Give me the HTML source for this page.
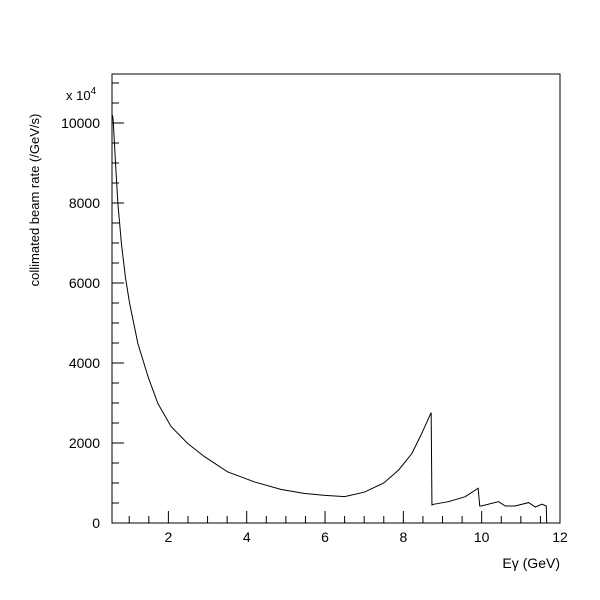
<!DOCTYPE html>
<html><head><meta charset="utf-8"><style>
body{margin:0;background:#fff}
svg{display:block;font-family:"Liberation Sans",sans-serif}
</style></head><body>
<svg id="chart" width="600" height="600" viewBox="0 0 600 600">
<rect width="600" height="600" fill="#fff"/>
<g id="axes"></g>
<text transform="translate(39,200) rotate(-90)" text-anchor="middle" font-size="13">collimated beam rate (/GeV/s)</text>
<text x="66" y="100" font-size="13">x 10<tspan font-size="10" dy="-6">4</tspan></text>
<text x="560" y="568" text-anchor="end" font-size="14">E&#947; (GeV)</text>
</svg>
<script>
const xs=[0.57,0.59,0.65,0.71,0.80,0.90,1.01,1.22,1.48,1.73,2.07,2.49,2.92,3.51,4.19,4.87,5.46,6.0,6.5,7.0,7.5,7.88,8.22,8.47,8.71,8.73,8.77,9.15,9.58,9.91,9.95,9.99,10.43,10.6,10.85,11.2,11.37,11.54,11.65,11.66];
const ys=[10200,10075,8990,7990,6990,6160,5490,4490,3660,2990,2410,1990,1660,1280,1030,840,740,690,660,770,1000,1325,1740,2240,2760,450,467,533,658,870,425,425,533,425,425,510,400,470,425,0];
const xTicks=[2,4,6,8,10,12];
const yTicks=[0,2000,4000,6000,8000,10000];
const X0=0.56,X1=12,Y0=0,Y1=11225;
const L=112,R=560,T=74,B=523;
const sx=v=>L+(v-X0)/(X1-X0)*(R-L);
const sy=v=>B-(v-Y0)/(Y1-Y0)*(B-T);
const NS='http://www.w3.org/2000/svg';
const g=document.getElementById('axes');
function mk(t,a){const e=document.createElementNS(NS,t);for(const k in a)e.setAttribute(k,a[k]);g.appendChild(e);return e;}
const fr=mk('rect',{x:L,y:T,width:R-L,height:B-T,fill:'none',stroke:'#000','stroke-width':1});


for(let v=1;v<=11.51;v+=0.5){const big=Math.abs(v-Math.round(v/2)*2)<1e-6;const l=mk('line',{x1:sx(v),x2:sx(v),y1:B,y2:B-(big?12:7),stroke:'#000'});

}
for(let v=500;v<=11000;v+=500){const big=v%2000===0;const l=mk('line',{x1:L,x2:L+(big?12:7),y1:sy(v),y2:sy(v),stroke:'#000'});

}
xTicks.forEach(v=>{const t=mk('text',{x:sx(v),y:B+19,'text-anchor':'middle','font-size':14});t.textContent=v;

});
yTicks.forEach(v=>{const t=mk('text',{x:L-12,y:sy(v)+5,'text-anchor':'end','font-size':14});t.textContent=v;

});
const p=mk('polyline',{points:xs.map((x,i)=>sx(x)+','+sy(ys[i])).join(' '),fill:'none',stroke:'#000','stroke-width':1});


</script>
</body></html>
